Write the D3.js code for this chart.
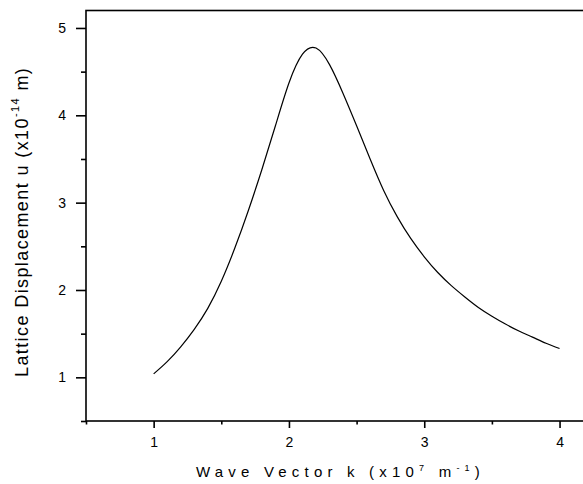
<!DOCTYPE html>
<html>
<head>
<meta charset="utf-8">
<script src="https://cdn.jsdelivr.net/npm/d3@7"></script>
<style>
  body { margin: 0; background: #fff; }
  svg { display: block; font-family: "Liberation Sans", Arial, sans-serif; }
  .axis path, .axis line { stroke: #000; stroke-width: 1.6; }
  .axis text { font-size: 14px; fill: #000; }
</style>
</head>
<body>
<svg id="chart" width="583" height="484"></svg>
<script>
// wave vector k (x10^7 m^-1) and lattice displacement u (x10^-14 m)
const waveVector = [1.0, 1.1, 1.2, 1.3, 1.4, 1.5, 1.6, 1.7, 1.8, 1.9, 2.0, 2.1, 2.2,
  2.3, 2.4, 2.5, 2.6, 2.7, 2.8, 2.9, 3.0, 3.1, 3.2, 3.3, 3.4, 3.5, 3.6, 3.7, 3.8, 3.9, 4.0];
const displacement = [1.04, 1.18, 1.35, 1.55, 1.79, 2.10, 2.48, 2.91, 3.38, 3.88, 4.37, 4.70, 4.77,
  4.58, 4.25, 3.88, 3.50, 3.14, 2.84, 2.59, 2.38, 2.20, 2.05, 1.92, 1.80, 1.70, 1.61, 1.53, 1.46, 1.39, 1.33];

const xMajor = [1, 2, 3, 4];
const xMinor = [0.5, 1.5, 2.5, 3.5];
const yMajor = [1, 2, 3, 4, 5];
const yMinor = [0.5, 1.5, 2.5, 3.5, 4.5];

const svg = d3.select('#chart');
const marginLeft = 86, plotTop = 10.5, plotBottom = 421;

const x = d3.scaleLinear().domain([0.5, 4.5]).range([marginLeft, marginLeft + 4 * 135.3]);
const y = d3.scaleLinear().domain([0.5, 5.2]).range([plotBottom, plotTop]);

// frame (right side falls outside the picture)
svg.append('rect')
  .attr('x', x(0.5)).attr('y', y(5.2))
  .attr('width', x(4.5) - x(0.5)).attr('height', y(0.5) - y(5.2))
  .attr('fill', 'none').attr('stroke', '#000').attr('stroke-width', 1.6);

// minor ticks first, then major ticks with labels
svg.append('g').attr('class', 'axis')
  .attr('transform', `translate(0,${plotBottom})`)
  .call(d3.axisBottom(x).tickValues(xMinor).tickSize(3.5).tickFormat(''))
  .select('.domain').remove();
svg.append('g').attr('class', 'axis')
  .attr('transform', `translate(0,${plotBottom})`)
  .call(d3.axisBottom(x).tickValues(xMajor).tickSize(7).tickPadding(9).tickFormat(d3.format('d')))
  .select('.domain').remove();

svg.append('g').attr('class', 'axis')
  .attr('transform', `translate(${marginLeft},0)`)
  .call(d3.axisLeft(y).tickValues(yMinor).tickSize(5).tickFormat(''))
  .select('.domain').remove();
svg.append('g').attr('class', 'axis')
  .attr('transform', `translate(${marginLeft},0)`)
  .call(d3.axisLeft(y).tickValues(yMajor).tickSize(10).tickPadding(10).tickFormat(d3.format('d')))
  .select('.domain').remove();

// the curve
const line = d3.line()
  .x((d, i) => x(waveVector[i]))
  .y((d) => y(d))
  .curve(d3.curveNatural);

svg.append('path')
  .datum(displacement)
  .attr('d', line)
  .attr('fill', 'none')
  .attr('stroke', '#000')
  .attr('stroke-width', 1.2);

// axis titles
const xt = svg.append('text')
  .attr('x', 196).attr('y', 477)
  .attr('font-size', 15)
  .attr('letter-spacing', 5.2);
xt.append('tspan').text('Wave Vector k (x10');
xt.append('tspan').attr('dy', -6).attr('font-size', 9).text('7');
xt.append('tspan').attr('dy', 6).text(' m');
xt.append('tspan').attr('dy', -6).attr('font-size', 9).text('-1');
xt.append('tspan').attr('dy', 6).text(')');

const yt = svg.append('text')
  .attr('transform', 'translate(28,377) rotate(-90)')
  .attr('font-size', 18)
  .attr('letter-spacing', 1.4);
yt.append('tspan').text('Lattice Displacement u (x10');
yt.append('tspan').attr('dy', -9).attr('font-size', 11).text('-14');
yt.append('tspan').attr('dy', 9).text('  m)');
</script>
</body>
</html>
